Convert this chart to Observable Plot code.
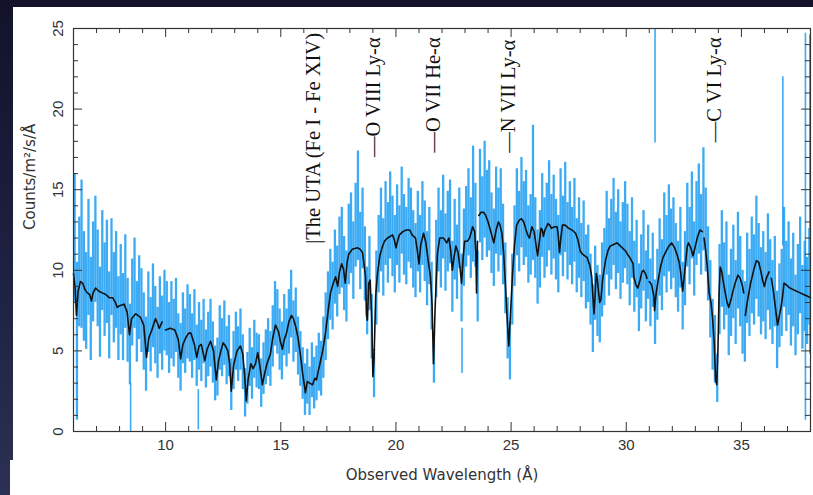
<!DOCTYPE html>
<html><head><meta charset="utf-8">
<script src="https://cdn.jsdelivr.net/npm/d3@7"></script>
<script src="https://cdn.jsdelivr.net/npm/@observablehq/plot@0.6"></script>
<style>
html,body{margin:0;padding:0;width:813px;height:495px;overflow:hidden;}
body{background:linear-gradient(to bottom,#12132b 0%,#1b1e3d 45%,#2b3153 100%);position:relative;}
#panel{position:absolute;left:13px;top:7px;width:800px;height:488px;background:#fff;}
#notch{position:absolute;left:10px;top:460px;width:10px;height:35px;background:#fff;}
#chart{position:absolute;left:13px;top:7px;}
</style></head><body>
<div id="panel"></div><div id="notch"></div><div id="chart"></div>
<script>
// Spectrum bins (Å): first bin centre and bin width
const binStart = 6.05, binStep = 0.1;
const fluxCenter = [
12.0,5.6,9.9,11.0,9.0,8.1,10.8,7.6,9.9,11.3,
9.5,7.4,10.6,8.8,9.9,7.2,10.2,8.3,9.4,7.0,
8.8,7.1,9.3,6.9,5.4,8.0,9.2,6.8,8.3,7.5,
6.2,4.8,7.4,6.0,7.8,6.6,5.5,7.2,6.1,7.5,
7.0,5.8,6.9,6.1,7.2,5.3,4.6,6.4,5.6,6.8,
6.4,5.3,6.6,4.7,5.9,5.0,6.2,4.5,5.4,6.1,
4.9,3.6,4.0,5.8,5.2,6.1,4.7,5.3,2.9,4.4,
5.6,4.8,5.7,4.3,2.4,3.3,4.6,3.6,5.1,4.4,
4.3,3.0,3.9,4.6,5.2,4.5,5.9,7.3,6.8,5.7,
5.0,6.6,5.8,6.8,7.9,6.2,6.9,5.3,4.5,3.6,
2.6,3.4,2.5,3.8,3.0,3.6,4.3,3.9,5.2,6.5,
7.8,9.1,8.4,10.2,9.3,10.9,11.4,9.8,9.0,11.6,
12.3,10.6,12.8,14.0,11.2,12.6,10.4,8.1,9.8,6.5,
3.6,8.9,11.0,12.5,10.8,12.9,11.7,13.4,12.1,11.0,
12.8,11.6,13.7,12.2,11.5,13.1,12.6,11.3,10.6,12.4,
11.0,12.9,11.8,10.1,11.5,8.4,4.6,10.7,12.5,11.3,
13.3,11.1,12.4,13.0,9.6,11.9,10.5,12.6,8.9,11.4,
12.7,13.6,12.0,14.1,12.8,9.0,14.6,13.2,15.0,13.5,
14.0,12.3,11.4,13.7,12.5,13.6,11.6,9.5,6.4,5.0,
8.8,11.5,13.6,12.4,14.2,12.9,13.5,11.6,12.2,14.8,
12.0,10.2,11.3,13.4,12.0,12.8,14.0,12.2,13.3,11.9,
11.0,13.6,12.1,13.9,11.8,12.9,11.5,13.1,10.9,12.0,
10.6,11.8,9.9,10.4,8.8,7.0,9.2,8.1,7.6,9.4,
10.2,12.3,10.8,11.9,13.0,11.2,12.4,10.6,11.7,12.8,
11.6,10.1,12.0,9.6,10.7,8.3,9.9,11.2,9.0,10.5,
8.6,10.0,7.4,9.1,10.8,9.7,12.2,11.0,12.6,11.3,
12.0,10.6,9.6,11.4,8.4,10.1,12.8,11.5,13.4,10.7,
12.9,13.8,12.2,14.4,12.5,10.4,8.2,6.0,5.1,3.3,
8.8,10.7,9.0,10.1,7.2,8.6,9.9,8.0,10.6,9.3,
7.4,6.8,9.5,8.6,10.3,9.4,11.4,10.0,8.7,9.6,
8.4,10.5,9.1,8.0,9.3,6.3,7.8,8.6,10.8,9.0,
10.1,8.0,9.4,7.2,8.8,10.3,7.7,9.0,8.1,9.6];
const fluxError = [
4.0,4.9,3.4,4.6,3.4,3.0,3.6,3.2,3.1,3.3,
3.0,2.8,3.1,2.9,3.2,2.7,3.0,2.8,3.0,2.6,
2.8,2.7,2.9,2.6,2.5,2.7,2.8,2.5,2.6,2.6,
2.4,2.3,2.5,2.3,2.6,2.4,2.2,2.4,2.3,2.5,
2.3,2.2,2.4,2.1,2.3,2.0,2.1,2.2,2.0,2.3,
2.1,2.0,2.2,1.9,2.1,1.9,2.0,1.8,2.0,2.1,
1.9,1.7,1.8,2.0,1.8,2.0,1.8,1.9,1.6,1.8,
1.8,1.7,1.9,1.7,1.5,1.6,1.8,1.6,1.8,1.7,
1.7,1.5,1.6,1.7,1.8,1.7,1.9,2.0,2.0,1.9,
1.8,1.9,1.8,2.0,2.1,1.9,2.0,1.8,1.7,1.6,
1.6,1.7,1.5,1.7,1.6,1.7,1.8,1.7,1.9,2.1,
2.1,2.2,2.1,2.3,2.2,2.4,2.5,2.3,2.2,2.5,
2.5,2.4,2.6,3.4,2.4,2.5,2.3,2.1,2.3,2.0,
1.5,2.3,2.4,2.6,2.4,2.6,2.5,2.7,2.5,2.4,
2.5,2.4,2.7,2.5,2.4,2.6,2.5,2.4,2.3,2.5,
2.4,2.6,2.5,2.3,2.4,2.1,1.6,2.4,2.6,2.4,
2.6,2.4,2.5,2.6,2.2,2.5,2.3,2.5,2.1,2.4,
2.5,2.7,2.5,3.6,2.6,2.2,2.9,2.6,3.0,2.7,
2.8,2.5,2.4,2.7,2.6,2.7,2.5,2.2,1.9,1.8,
2.2,2.5,2.7,2.5,2.8,2.6,2.7,2.4,2.5,4.2,
2.5,2.3,2.4,2.6,2.5,2.6,2.8,2.5,2.6,2.5,
2.4,2.7,2.5,2.8,2.4,2.6,2.4,2.6,2.3,2.5,
2.3,2.5,2.3,2.4,2.2,2.1,2.3,2.2,2.1,2.3,
2.4,2.6,2.4,2.5,2.7,2.4,2.6,2.4,2.5,2.7,
2.5,2.3,2.5,2.2,2.4,2.1,2.3,2.5,2.2,2.3,
2.1,2.3,2.0,2.2,2.4,2.2,2.6,2.4,2.7,2.5,
2.5,2.3,2.2,2.5,2.1,2.3,2.6,2.4,2.7,2.3,
2.6,2.8,2.5,3.2,2.6,2.3,2.4,2.2,2.1,1.5,
2.8,3.0,2.7,2.9,2.5,2.7,2.9,2.6,3.0,2.8,
2.6,2.5,2.8,2.7,3.0,2.8,3.2,2.9,2.7,2.8,
2.7,3.0,2.8,2.6,2.8,2.4,2.6,2.7,3.1,2.8,
2.9,2.7,2.9,2.5,2.8,3.0,2.6,2.8,2.7,3.0];
// Isolated long error bars
const spikeWavelength = [8.48, 11.42, 22.87, 31.25, 36.80, 37.78, 37.97];
const spikeLow  = [0.0, 0.1, 3.6, 17.9, 11.5, 0.7, 4.8];
const spikeHigh = [3.0, 2.6, 6.4, 25.0, 22.0, 24.7, 24.6];

// Best-fit model (black), segment lengths mark breaks in the curve
const modelWavelength = [
6.0,6.07,6.13,6.2,6.3,6.4,6.5,6.6,6.7,6.78,6.85,6.96,7.1,7.25,7.4,7.55,7.7,7.82,7.9,8.0,8.2,8.33,8.43,8.52,8.7,8.9,9.05,9.17,9.27,9.4,9.56,9.65,9.72,9.85,
10.0,10.2,10.4,10.55,10.65,10.75,10.87,11.0,11.1,11.25,11.35,11.45,11.55,11.7,11.8,11.95,12.08,12.2,12.3,12.4,12.5,12.6,12.7,12.78,12.85,12.95,13.1,13.25,13.35,13.43,13.5,13.58,13.7,13.8,13.9,14.0,14.1,14.2,14.3,14.4,14.55,14.65,14.77,14.9,14.98,15.07,15.15,15.25,15.35,15.46,15.55,15.65,15.75,15.85,15.95,16.07,16.15,16.25,16.38,16.48,16.55,16.62,16.7,16.82,16.94,17.05,17.16,17.28,17.38,17.47,17.55,17.64,17.72,17.8,17.88,17.95,18.1,18.33,18.45,18.55,18.62,18.68,18.72,18.76,18.82,18.88,18.95,19.0,19.05,19.12,19.2,19.3,19.4,19.5,19.63,19.75,19.85,19.93,20.0,20.07,20.15,20.3,20.45,20.6,20.7,
20.85,20.93,21.0,21.08,21.2,21.3,21.4,21.5,21.57,21.63,21.7,21.8,21.9,22.07,22.2,22.3,22.38,22.45,22.52,22.6,22.7,22.78,22.85,22.92,22.98,23.1,23.2,23.33,23.42,23.47,23.5,23.54,23.6,23.7,23.8,23.9,24.0,24.1,24.25,24.35,24.45,24.52,24.6,24.68,24.75,24.83,24.9,24.97,25.06,25.15,25.24,25.35,25.45,25.55,25.63,25.72,25.8,25.9,26.0,26.08,26.15,26.22,26.3,26.36,26.4,26.47,26.6,26.68,26.75,26.88,27.0,27.05,27.1,27.16,27.23,27.35,27.5,27.65,27.8,27.9,28.0,
28.1,28.2,28.3,28.42,28.5,28.55,28.6,28.65,28.7,28.75,28.8,28.85,28.9,28.98,29.1,29.2,29.3,29.45,29.6,29.75,29.97,30.05,30.15,30.3,
30.33,30.42,30.5,30.6,30.68,30.75,30.83,30.9,31.0,31.1,31.2,31.23,31.3,31.4,31.5,31.6,31.7,31.85,31.97,32.1,32.2,32.3,32.36,32.45,
32.65,32.7,32.8,32.9,33.0,33.1,33.2,33.3,33.38,33.45,33.52,
33.6,33.68,33.75,33.82,33.88,33.93,33.98,34.03,34.08,34.15,34.2,34.3,34.38,34.45,34.55,34.65,34.75,34.85,34.95,35.05,35.1,35.17,35.25,35.4,35.55,35.65,35.75,35.85,35.92,36.0,36.08,36.2,36.3,36.4,36.5,36.57,36.65,36.72,36.78,
36.85,36.95,37.1,37.25,37.4,37.55,37.7,37.85,38.0];
const modelFlux = [
9.8,8.9,7.2,8.7,9.3,9.2,8.8,8.6,8.5,8.1,8.6,8.9,8.7,8.6,8.5,8.3,8.3,8.0,7.7,7.8,7.9,7.4,6.0,7.0,7.3,7.1,6.6,4.6,5.8,6.3,7.0,6.7,6.4,6.8,
6.3,6.4,6.3,5.7,4.5,5.4,5.8,6.1,6.1,5.4,4.6,5.3,5.4,4.4,5.1,5.6,5.0,3.2,4.4,5.0,5.5,5.3,5.0,4.2,2.5,4.1,5.0,5.3,4.8,3.5,1.9,3.2,4.2,3.9,4.2,4.9,4.0,2.9,3.6,4.2,4.8,5.8,6.6,6.2,5.6,5.1,5.7,6.1,6.8,7.2,7.0,6.5,5.8,4.8,3.6,2.4,3.1,3.0,2.9,3.3,3.2,3.7,4.2,5.0,6.1,7.4,8.6,9.2,9.6,9.0,9.9,10.4,10.1,9.2,10.5,11.0,11.3,11.4,11.3,11.1,10.3,9.6,7.2,6.9,9.2,9.4,7.0,3.4,4.5,8.4,9.8,10.9,11.4,11.8,12.0,12.1,12.2,11.9,11.4,11.8,12.2,12.4,12.5,12.5,12.2,
12.0,11.2,10.4,11.6,12.3,11.7,10.6,9.6,7.8,4.2,7.6,11.0,12.0,12.0,11.7,12.0,11.2,10.0,10.8,11.5,11.1,10.2,9.2,10.8,11.8,11.8,12.0,12.7,12.4,11.0,8.6,11.8,13.4,13.6,13.6,13.4,13.0,12.5,11.7,12.5,13.0,12.8,12.3,11.0,9.2,7.0,5.3,7.2,9.7,11.6,12.8,13.1,13.2,13.0,12.6,12.2,12.0,12.7,12.4,11.6,10.9,11.7,12.6,12.5,12.1,12.5,12.9,12.8,12.6,12.7,12.7,12.1,11.1,12.0,12.8,12.8,12.6,12.5,12.3,11.9,11.2,
11.0,10.9,10.8,10.3,9.6,8.4,7.3,8.5,9.8,9.4,8.6,8.0,8.2,9.5,10.6,11.2,11.5,11.6,11.7,11.5,11.2,11.0,10.8,10.4,
9.6,9.1,8.9,9.4,9.9,10.0,9.8,9.5,9.3,9.1,8.4,7.5,8.6,9.5,10.3,10.8,11.1,11.5,11.7,11.4,11.0,10.5,9.9,8.7,
11.5,11.7,11.4,10.9,11.5,12.1,12.5,12.4,12.0,11.2,10.2,
8.6,8.0,7.0,5.5,3.2,2.9,5.0,8.5,10.2,9.9,9.4,8.6,8.0,7.7,8.2,8.8,9.3,9.7,9.5,9.0,8.6,7.2,8.0,9.2,10.1,10.6,10.5,9.9,9.4,9.0,9.5,9.9,9.5,8.6,7.4,6.6,7.2,7.7,8.3,
9.2,9.1,8.9,8.8,8.7,8.6,8.5,8.4,8.3];
const modelSegmentLengths = [34, 137, 81, 24, 24, 11, 39, 9];

// Axis ticks and annotations
const xMajorTicks = [10, 15, 20, 25, 30, 35];
const yMajorTicks = [0, 5, 10, 15, 20, 25];
const lineLabels = ["|The UTA (Fe I - Fe XIV)", "—O VIII Ly-α", "—O VII He-α", "—N VII Ly-α", "—C VI Ly-α"];
const lineWavelength = [16.42, 19.03, 21.63, 24.88, 33.82];
const lineTop = [24.72, 24.45, 24.45, 24.3, 24.45];

const bins = fluxCenter.map((c, i) => ({x: binStart + i * binStep, lo: c - fluxError[i], hi: Math.min(25, c + fluxError[i])}));
const spikes = spikeWavelength.map((x, i) => ({x, lo: spikeLow[i], hi: spikeHigh[i]}));
const segIds = modelSegmentLengths.flatMap((n, k) => Array(n).fill(k));
const model = modelWavelength.map((x, i) => ({x, y: modelFlux[i], seg: segIds[i]}));
const xMinor = d3.range(7, 38).filter(v => v % 5 !== 0);
const yMinor = d3.range(1, 25).filter(v => v % 5 !== 0);
const labels = lineLabels.map((t, i) => ({t, x: lineWavelength[i], y: lineTop[i]}));

const W = 800, H = 488;
const pxX = 32 / 737, pxY = 25 / 403; // data units per pixel (for tick lengths)
const maj = 9, mnr = 5;
const tickColor = "#333";

const chart = Plot.plot({
  width: W, height: H,
  marginLeft: 60, marginRight: 3, marginTop: 21, marginBottom: 64,
  x: {domain: [6, 38], axis: null},
  y: {domain: [0, 25], axis: null},
  style: {background: "transparent", fontFamily: "Liberation Sans, Arial, sans-serif"},
  marks: [
    Plot.ruleX(bins, {x: "x", y1: "lo", y2: "hi", stroke: "#1a9cf2", strokeOpacity: 0.85, strokeWidth: 2.3}),
    Plot.ruleX(spikes, {x: "x", y1: "lo", y2: "hi", stroke: "#1a9cf2", strokeOpacity: 0.85, strokeWidth: 1.6}),
    Plot.line(model, {x: "x", y: "y", z: "seg", stroke: "#111", strokeWidth: 1.6}),
    // ticks: bottom/top
    Plot.ruleX(xMajorTicks, {x: d => d, y1: 0, y2: maj * pxY, stroke: tickColor}),
    Plot.ruleX(xMinor, {x: d => d, y1: 0, y2: mnr * pxY, stroke: tickColor}),
    Plot.ruleX(xMajorTicks, {x: d => d, y1: 25, y2: 25 - maj * pxY, stroke: tickColor}),
    Plot.ruleX(xMinor, {x: d => d, y1: 25, y2: 25 - mnr * pxY, stroke: tickColor}),
    // ticks: left/right
    Plot.ruleY(yMajorTicks.slice(1, 5), {y: d => d, x1: 6, x2: 6 + maj * pxX, stroke: tickColor}),
    Plot.ruleY(yMinor, {y: d => d, x1: 6, x2: 6 + mnr * pxX, stroke: tickColor}),
    Plot.ruleY(yMajorTicks.slice(1, 5), {y: d => d, x1: 38, x2: 38 - maj * pxX, stroke: tickColor}),
    Plot.ruleY(yMinor, {y: d => d, x1: 38, x2: 38 - mnr * pxX, stroke: tickColor}),
    Plot.frame({stroke: "#333", strokeWidth: 1.2}),
    // tick labels
    Plot.text(xMajorTicks, {x: d => d, y: 0, dy: 14, text: d => String(d), fontSize: 15, fill: "#333"}),
    Plot.text(yMajorTicks, {x: 6, y: d => d, dx: -15, rotate: -90, text: d => String(d), fontSize: 15, fill: "#333"}),
    Plot.text(["Observed Wavelength (Å)"], {frameAnchor: "bottom", dy: 48, fontSize: 15, fill: "#333", fontFamily: "DejaVu Sans"}),
    Plot.text(["Counts/m²/s/Å"], {frameAnchor: "left", dx: -43, rotate: -90, fontSize: 15, fill: "#333", fontFamily: "DejaVu Sans"}),
    // line annotations
    Plot.text(labels, {x: "x", y: "y", text: "t", rotate: -90, textAnchor: "end", fontSize: 20.5, fill: "#111", fontFamily: "Liberation Serif, Times New Roman, serif"})
  ]
});
document.getElementById("chart").appendChild(chart);
</script>
</body></html>
